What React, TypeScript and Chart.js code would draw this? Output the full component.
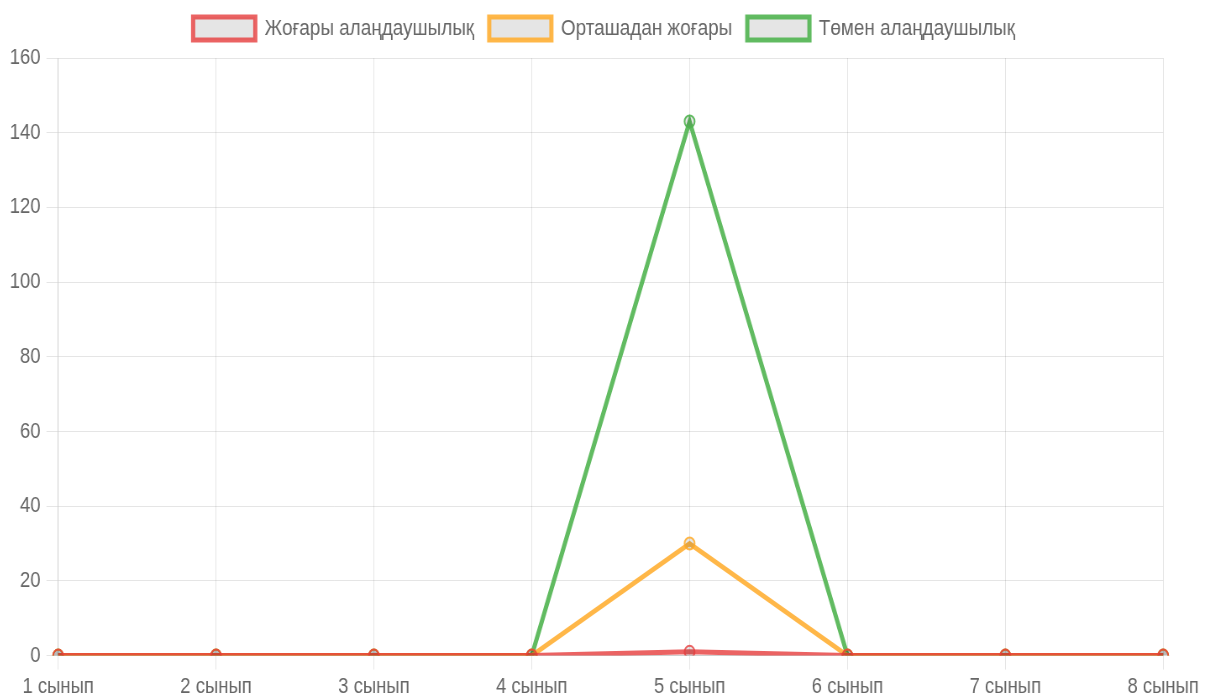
import React, { useEffect, useRef } from "react";
import { Chart, registerables } from "chart.js";

Chart.register(...registerables);

const categories = ["1 сынып", "2 сынып", "3 сынып", "4 сынып", "5 сынып", "6 сынып", "7 сынып", "8 сынып"];
const highAnxiety = [0, 0, 0, 0, 1, 0, 0, 0];
const aboveAverage = [0, 0, 0, 0, 30, 0, 0, 0];
const lowAnxiety = [0, 0, 0, 0, 143, 0, 0, 0];
const seriesNames = ["Жоғары алаңдаушылық", "Орташадан жоғары", "Төмен алаңдаушылық"];

const SX = 0.84;
const W = 1198;
const H = 692;

export default function App() {
  const ref = useRef<HTMLCanvasElement | null>(null);
  useEffect(() => {
    if (!ref.current) return;
    const family = "'Liberation Sans', Arial, sans-serif";
    const font = { family, size: 22 };
    const legendFont = { family, size: 22.5 };
    const fill = "rgba(0,0,0,0.1)";
    const mk = (label: string, data: number[], color: string) => ({
      label,
      data,
      borderColor: color,
      backgroundColor: fill,
      pointBackgroundColor: fill,
      pointBorderColor: color,
      borderWidth: 5,
      pointRadius: 6,
      pointBorderWidth: 2,
      fill: false,
      tension: 0,
    });
    const legendMargin = {
      id: "legendMargin",
      beforeInit(chart: any) {
        const orig = chart.legend.fit;
        chart.legend.fit = function () {
          orig.bind(chart.legend)();
          this.height += 8;
        };
      },
    };
    const chart = new Chart(ref.current, {
      type: "line",
      data: {
        labels: categories,
        datasets: [
          mk(seriesNames[0], highAnxiety, "rgba(230,60,60,0.8)"),
          mk(seriesNames[1], aboveAverage, "rgba(255,170,40,0.85)"),
          mk(seriesNames[2], lowAnxiety, "rgba(80,180,80,0.9)"),
        ],
      },
      options: {
        animation: false,
        responsive: true,
        maintainAspectRatio: false,
        layout: { padding: { left: -5, right: 2, top: -9, bottom: -4 } },
        plugins: {
          legend: {
            labels: { boxWidth: 74, boxHeight: 23, font: legendFont, color: "#666", padding: 18 },
          },
          tooltip: { enabled: false },
        },
        scales: {
          x: {
            grid: { color: "rgba(0,0,0,0.1)", tickLength: 14 },
            ticks: { font, color: "#666", maxRotation: 0, padding: 4 },
            afterFit(scale: any) {
              scale.paddingRight = 51;
            },
          },
          y: {
            min: 0,
            max: 160,
            grid: { color: "rgba(0,0,0,0.1)", tickLength: 14 },
            ticks: { font, color: "#666", stepSize: 20, padding: 7 },
          },
        },
      },
      plugins: [legendMargin],
    });
    return () => chart.destroy();
  }, []);
  return (
    <div style={{ width: W, height: H, overflow: "hidden" }}>
      <div style={{ width: W / SX, height: H, transform: `scaleX(${SX})`, transformOrigin: "0 0" }}>
        <canvas ref={ref} />
      </div>
    </div>
  );
}
